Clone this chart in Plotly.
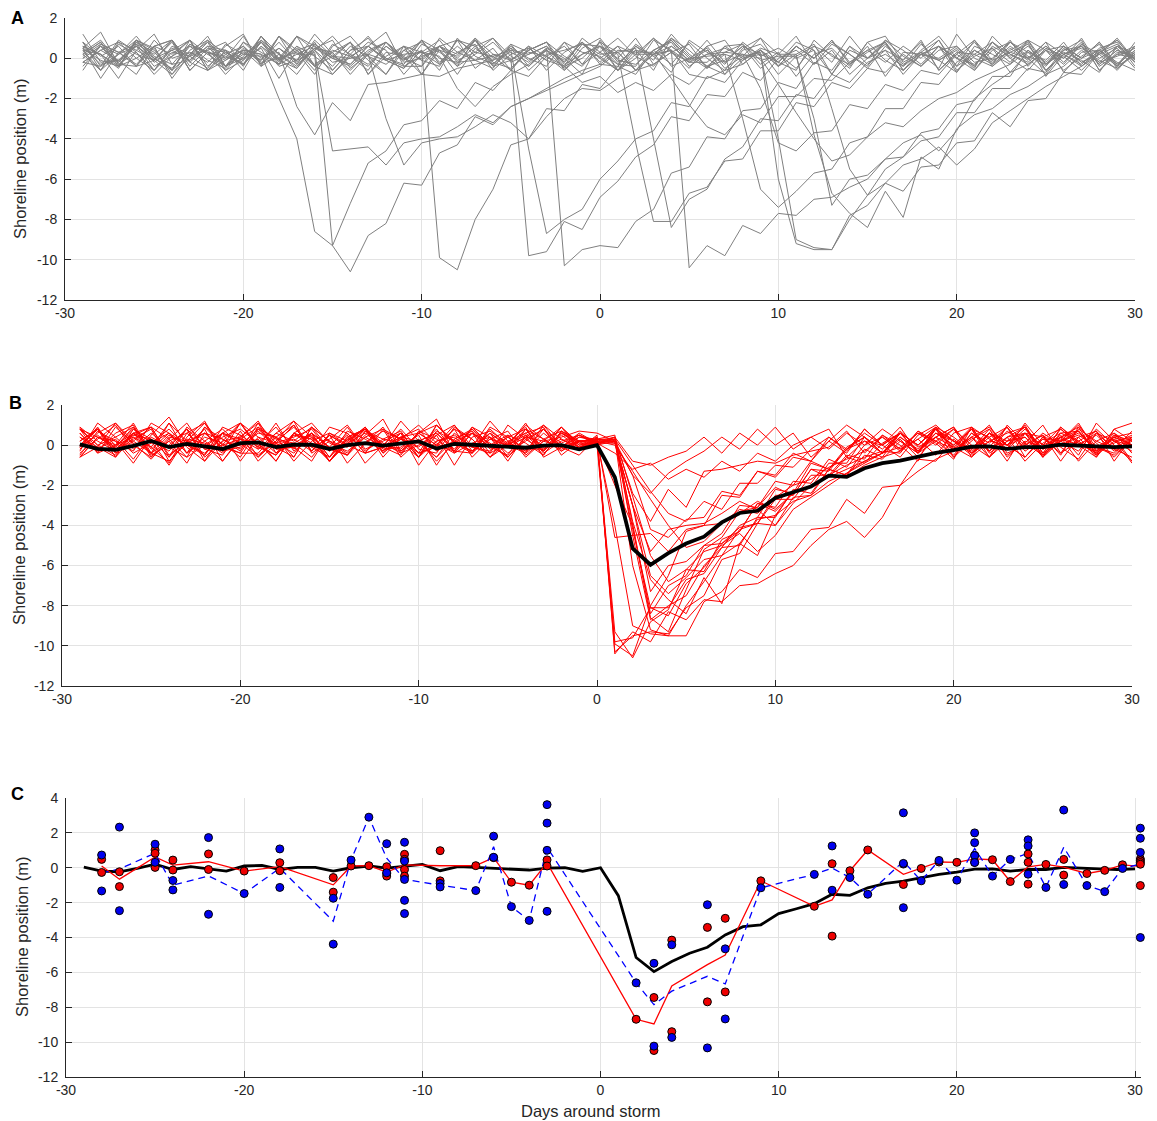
import plotly.graph_objects as go
import pandas as pd

# ---------------- data ----------------
# storm day (absolute day of the last pre-storm sample) for each shoreline record
storm_day = [-19, -19, -16, -16, -14, -10, -5, -3, -6, 0, 1, 4,
             8, 10, 10, 11, 7, 8, 2, -3, -10, 3, 9, 6]

# pre-storm samples, ending the day before the storm day (relative days ..., -2, -1)
pre_01 = [0.6,-0.4,0.9,0.1,-0.7,0.3,1.1,-0.2,-0.5,0.7,-0.6,0.2,1.2,0.4,-0.3,0.5,-0.9,0.0,0.8,-0.2,-0.4,0.9,0.3,-0.6,0.5,0.1,-0.5,0.7,0.2]
pre_02 = [-0.5,0.7,0.2,-0.9,0.4,-0.1,-0.6,0.9,0.3,-0.3,1.1,-0.4,0.1,0.6,-0.8,0.3,0.8,-0.2,-0.1,0.5,-1.0,0.3,0.7,-0.4,0.1,0.9,-0.6,-0.1,0.4]
pre_03 = [0.9,-0.2,0.3,-0.7,0.5,1.4,0.0,-0.5,0.6,0.1,-0.6,0.4,1.0,-0.3,0.5,-0.9,0.1,0.7,0.3,-0.4,-0.1,0.8,-0.6,0.3,0.0,1.1,-0.3,0.5,-0.1]
pre_04 = [-0.6,0.4,0.0,1.1,-0.4,0.2,-0.9,0.6,0.3,-0.2,0.7,-0.1,-0.6,0.9,0.2,-0.4,0.5,1.3,-0.3,0.3,-0.8,0.1,0.6,-0.1,-0.5,0.8,0.3,-0.3,0.2]
pre_05 = [0.2,0.8,-0.6,0.4,-0.1,-0.9,0.6,1.1,-0.3,0.3,-0.5,0.2,0.9,-0.1,-0.6,0.7,0.3,-0.3,0.6,-1.0,0.2,0.4,-0.4,0.8,0.0,0.5,-0.3,0.9,0.1]
pre_06 = [0.4,-0.3,0.6,1.0,-0.5,0.0,0.8,-0.8,0.2,0.4,1.2,-0.2,-0.1,0.6,-0.6,0.3,0.1,0.9,-0.4,0.0,0.5,-1.0,0.4,0.7,0.1,-0.3,0.6,-0.1,-0.5]
pre_07 = [-0.2,0.6,1.1,0.0,-0.6,0.4,0.2,-0.5,0.9,0.5,-0.8,0.1,0.4,0.8,-0.3,0.6,-0.4,-0.1,1.2,0.2,-0.6,0.3,0.8,-0.2,0.0,0.6,0.9,-0.5,0.2]
pre_08 = [0.8,0.0,-0.5,0.6,0.2,-1.0,0.4,1.2,-0.3,-0.1,0.6,0.4,-0.6,0.9,0.2,-0.5,0.7,0.0,-0.3,0.6,1.3,-0.4,0.1,0.4,-0.8,0.5,-0.1,0.3,-0.2]
pre_09 = [-0.4,0.3,1.0,-0.2,0.6,-0.1,0.8,-0.6,0.2,1.1,0.0,-0.5,0.6,0.3,-0.8,0.1,0.9,-0.1,0.4,-0.6,0.7,0.2,-0.3,0.6,0.0,-0.4,1.0,0.3,-0.1]
pre_10 = [0.6,-0.3,-0.1,0.8,0.3,-0.6,0.9,0.2,-0.4,0.5,-0.1,1.1,-0.3,0.4,-0.8,0.1,0.6,-0.1,-0.5,0.7,0.3,-0.3,0.9,0.0,0.5,-0.6,0.2,0.4,0.7]
pre_11 = [0.2,0.8,-0.4,0.0,0.6,0.9,-0.6,0.3,0.1,-0.3,1.1,-0.1,-0.5,0.5,0.3,-0.8,0.2,0.8,-0.1,0.4,-0.6,1.0,0.1,-0.3,0.6,-0.1,0.4,-0.5,0.7,0.2]
pre_12 = [0.4,-0.6,0.7,0.2,-0.1,0.9,-0.4,0.5,0.3,-0.3,0.8,0.0,-0.8,0.4,1.1,0.1,-0.4,0.6,-0.1,0.9,-0.3,0.3,0.7,-0.6,0.2,0.5,-0.1,-0.4,1.0,0.3,-0.3,0.6,0.1]
pre_13 = [0.0,0.6,-0.4,0.9,0.1,-0.3,0.7,0.3,-0.6,-0.1,1.1,0.2,-0.4,0.5,0.0,0.8,-0.8,0.3,0.1,0.9,-0.2,0.6,-0.1,-0.5,0.7,0.3,0.1,-0.6,0.5,1.0,-0.1,-0.3,0.4,0.8,-0.4,0.2,0.5]
pre_14 = [0.5,-0.1,-0.4,0.7,0.2,0.9,-0.6,0.3,-0.1,0.6,-0.3,1.1,0.4,-0.4,0.1,0.8,-0.1,-0.8,0.6,0.3,0.9,-0.2,-0.1,0.5,-0.6,0.4,0.8,0.1,-0.4,0.6,0.0,1.0,-0.3,0.3,0.7,-0.5,0.2,-0.1,0.5]
pre_15 = [-0.2,0.4,0.8,0.0,-0.6,0.6,0.2,1.1,-0.4,0.3,-0.1,0.8,-0.2,0.5,0.9,-0.5,0.2,-0.1,0.6,-0.8,0.4,0.1,1.0,-0.3,0.5,0.0,-0.4,0.8,0.3,0.1,-0.6,0.6,-0.1,1.2,0.2,-0.4,0.3,0.7,-0.1]
pre_16 = [0.3,0.9,-0.2,0.6,0.0,-0.6,0.7,0.2,0.4,-0.4,1.1,-0.1,0.5,-0.3,0.3,0.8,-0.8,0.1,0.6,-0.1,-0.4,0.9,0.3,0.1,-0.6,0.5,-0.1,0.8,-0.3,0.3,1.0,0.1,-0.4,0.6,-0.1,0.4,-0.3,0.8,0.1,0.5]
pre_17 = [0.8,-0.4,0.2,0.6,-0.1,-0.8,0.4,0.9,0.2,-0.3,0.6,-0.1,1.1,-0.4,0.4,0.1,-0.6,0.8,0.0,0.3,-0.3,0.9,0.6,-0.4,-0.1,0.4,0.8,-0.3,0.2,0.6,-0.6,0.0,1.0,0.3,-0.2,0.2]
pre_18 = [-0.4,0.6,0.2,0.9,-0.2,0.4,-0.1,0.8,-0.6,0.4,0.2,-0.3,1.1,0.6,0.0,-0.4,0.4,0.8,0.1,-0.8,0.6,-0.1,0.3,1.0,-0.2,0.2,0.6,-0.4,0.0,0.8,0.3,-0.6,0.2,0.6,-0.1,0.9,-0.2]
pre_19 = [0.2,-0.6,0.8,0.4,-0.1,0.9,-0.2,0.6,-0.4,0.2,0.8,0.0,0.3,-0.8,0.6,1.1,0.1,-0.3,0.4,-0.1,0.6,-0.4,1.0,0.2,-0.1,0.6,-0.6,0.3,0.8,-0.3,0.4]
pre_20 = [0.4,-0.1,-0.6,0.8,0.1,0.6,-0.4,0.9,0.0,0.3,-0.2,0.6,1.2,-0.4,0.2,-0.1,0.8,-0.6,0.4,0.6,0.0,-0.3,0.9,0.4,-0.4,0.2,0.8,-0.1,0.6]
pre_21 = [0.0,0.8,-0.4,0.2,0.9,0.3,-0.6,0.0,0.6,1.1,-0.2,0.4,-0.1,-0.8,0.6,0.2,0.9,-0.4,0.3,-0.1,0.8,-0.3,0.6,0.1,-0.6,0.4,1.0,-0.1,0.2]
pre_22 = [0.6,0.2,-0.4,0.8,0.0,0.4,0.9,-0.6,0.2,0.6,-0.2,0.0,1.1,0.4,-0.4,0.6,0.1,-0.8,0.4,0.8,0.0,-0.2,0.6,1.0,0.1,-0.4,0.4,-0.1,0.8,-0.2,0.6,0.2]
pre_23 = [0.2,0.8,-0.3,-0.4,0.6,0.9,-0.2,-0.6,0.4,0.0,0.8,-0.2,0.6,-0.4,-0.8,0.2,1.1,0.0,-0.4,-0.4,0.6,0.2,0.9,-0.2,-0.5,0.4,0.8,-0.6,0.2,0.6,-0.3,-0.4,0.9,0.4,-0.2,-0.2,0.6,0.0]
pre_24 = [0.0,0.6,-0.2,0.9,0.4,-0.6,0.2,0.8,0.0,0.4,-0.4,1.1,0.2,0.6,-0.2,0.0,0.8,0.4,-0.8,0.2,0.6,0.0,0.9,-0.4,0.4,0.2,0.6,-0.2,0.8,0.0,-0.6,0.4,0.2,0.9,0.0]

# samples from the storm day onward (relative days 0, 1, 2, ...)
main_01 = [0.1,0.3,-2.4,-3.8,-2.2,-3.1,-1.3,-1.2,-1.0,-0.8,-0.9,-0.5,-0.3,-0.1,0.7,-0.4,0.5,0.0,-0.8,0.9,-0.2,0.4,-0.6,1.0,0.1,-0.5,0.6,0.7,-0.3,0.3,-0.9,0.2,0.5,-0.4,0.8,-0.1,-0.6,0.4,1.1,0.0,-0.3,0.5,-0.7,0.3,-0.1,0.8,-0.4,0.2,0.6,-0.2]
main_02 = [0.2,-2.0,-4.0,-8.6,-9.3,-7.2,-5.2,-4.6,-3.3,-3.1,-2.1,-2.5,-1.2,-1.6,-0.6,-0.9,0.1,0.6,-0.3,0.8,-0.6,0.2,1.0,-0.4,0.0,0.5,-0.8,0.4,0.7,-0.2,-0.6,0.9,0.1,-0.3,0.6,-0.9,0.3,0.2,-0.5,1.2,0.0,-0.4,0.5,-0.1,0.8,-0.7,0.3,0.4,-0.2,-0.6]
main_03 = [0.3,-4.6,-4.5,-4.4,-5.3,-4.2,-4.0,-3.9,-3.4,-2.8,-3.2,-2.4,-2.0,-1.5,-1.0,-0.6,-0.3,-0.4,0.7,0.1,-0.7,0.9,0.3,-0.2,0.6,-0.5,0.2,1.1,-0.3,0.4,-0.8,0.0,0.7,-0.4,0.3,0.9,-0.6,0.1,0.5,-0.2,0.8,-0.9,0.2,0.6,-0.3,0.4,0.0]
main_04 = [0.2,-9.3,-10.6,-8.8,-8.2,-6.2,-6.3,-4.7,-4.3,-2.9,-3.3,-2.4,-2.0,-1.6,-1.2,-0.8,-0.4,0.3,-0.6,0.4,0.9,-0.2,0.6,-0.5,0.1,1.0,-0.4,0.2,0.7,-0.8,0.4,0.0,0.8,-0.3,0.2,0.6,-0.7,0.4,-0.1,0.9,-0.4,0.5,0.1,-0.6,0.3,0.7,-0.2]
main_05 = [0.0,0.2,-3.0,-5.3,-4.2,-4.0,-3.9,-3.4,-2.8,-3.2,-4.0,-2.9,-2.0,-1.5,-1.6,-1.0,-0.6,-0.3,0.3,-0.5,0.6,0.9,-0.3,0.4,-0.8,0.1,0.6,0.2,-0.5,0.8,1.1,-0.2,0.3,-0.1,-0.7,0.6,0.2,-0.3,0.9,0.4,-0.6,0.1,0.7,-0.5,0.2]
main_06 = [0.4,-9.9,-10.5,-8.0,-6.5,-4.3,-4.0,-2.5,-2.6,-1.3,-1.5,-0.4,-0.8,0.4,-0.3,0.8,0.0,-0.6,0.5,1.0,0.2,-0.5,0.6,-0.2,1.1,0.0,0.4,-0.8,0.2,0.6,-0.4,0.9,-0.1,0.3,0.7,-0.6,0.2,-0.3,0.5,0.8,-0.4]
main_07 = [0.0,-9.8,-9.6,-8.1,-8.5,-6.9,-6.1,-4.9,-4.3,-2.9,-3.1,-1.8,-1.9,-0.7,-1.1,0.0,0.4,-0.3,0.7,0.2,-0.5,0.6,-0.1,0.9,-0.6,0.3,0.2,-0.3,0.8,0.0,-0.8,0.4,0.6,-0.2,0.1,0.5]
main_08 = [0.5,-10.3,-9.5,-9.3,-9.4,-8.1,-7.5,-5.7,-5.4,-3.9,-4.0,-2.6,-2.5,-1.2,-1.5,-0.2,-0.6,0.6,-0.3,0.4,-0.1,0.8,-0.6,0.2,0.9,-0.4,0.3,0.0,0.6,-0.2,0.7,0.2,-0.6,0.4]
main_09 = [0.1,0.4,-4.5,-8.7,-8.0,-7.5,-6.0,-5.1,-4.0,-3.6,-2.2,-2.4,-0.9,-1.2,-0.1,0.4,-0.4,0.6,0.0,0.9,-0.3,0.3,0.8,-0.6,0.2,-0.1,0.5,-0.5,1.1,0.2,-0.3,0.4,0.0,0.8,-0.6,0.3,0.1]
main_10 = [0.6,0.2,-4.2,-8.1,-8.1,-6.7,-6.4,-5.1,-5.0,-3.6,-3.6,-2.2,-2.4,-1.2,-1.5,-0.5,-0.7,0.2,-0.4,0.6,0.0,0.8,-0.3,0.4,0.9,-0.6,0.2,0.5,-0.1,-0.5,0.3]
main_11 = [0.3,0.5,-4.0,-8.4,-7.0,-6.5,-5.0,-4.4,-3.0,-3.1,-1.8,-2.0,-0.8,-1.2,-0.2,0.2,-0.4,0.7,-0.1,0.4,-0.6,0.6,0.1,0.9,-0.3,0.3,-0.1,-0.7,0.6,0.2,0.4]
main_12 = [0.4,-10.4,-9.3,-9.8,-8.3,-8.7,-7.7,-7.8,-7.0,-6.9,-6.4,-6.0,-5.0,-4.2,-3.8,-4.6,-3.6,-2.0,-1.3,-0.7,-0.3,0.4,-0.3,0.7,0.0,0.5,-0.5,0.9,0.1,-0.6,0.3]
main_13 = [0.1,0.3,-6.0,-9.2,-9.5,-9.5,-7.8,-7.3,-6.2,-6.6,-5.4,-5.3,-4.2,-4.1,-2.7,-3.4,-2.1,-2.0,-0.7,-0.8,0.3,-0.4,0.6,0.0,0.8,-0.2,0.4,0.9,-0.5,0.2,0.0]
main_14 = [0.2,0.2,-3.8,-6.7,-7.7,-8.4,-6.6,-7.9,-4.9,-5.5,-3.5,-2.8,-2.5,-1.8,-1.4,-0.8,-0.4,0.4,-0.2,0.6,0.0,0.9,-0.4,0.2,0.6,-0.6,0.4,0.7,-0.2,0.1,0.5]
main_15 = [0.1,0.1,-3.0,-7.3,-6.0,-5.8,-5.0,-4.9,-4.1,-3.9,-2.7,-2.7,-1.5,-1.5,-0.5,-0.7,0.5,-0.2,0.3,0.9,-0.1,-0.6,0.6,0.2,0.4,-0.4,0.8,0.0,0.5,-0.3,0.2]
main_16 = [0.0,0.4,-2.5,-5.5,-6.8,-6.2,-5.3,-5.0,-4.4,-5.3,-4.5,-3.2,-2.6,-2.0,-1.4,-0.9,-0.4,0.4,-0.3,0.6,0.2,-0.2,0.8,0.0,0.4,-0.6,0.9,0.2,-0.4,0.4,0.0]
main_17 = [0.3,0.2,-1.5,-4.2,-4.6,-3.7,-3.6,-2.3,-2.5,-1.3,-1.6,-0.6,-0.8,0.2,-0.4,0.8,0.0,0.6,-0.3,0.4,0.9,-0.6,0.2,0.0,0.6,0.4,-0.4,0.8,0.2,-0.2,0.4]
main_18 = [0.2,0.0,-1.3,-2.7,-4.0,-5.1,-4.8,-3.9,-3.2,-3.4,-2.6,-2.0,-1.7,-1.1,-0.7,-0.3,0.4,-0.2,0.6,0.0,0.8,-0.4,0.2,0.6,0.9,-0.2,0.4,0.0,-0.6,0.5,0.2]
main_19 = [0.3,0.3,-1.0,-2.3,-3.4,-3.8,-2.8,-3.2,-1.9,-1.9,-1.0,-1.1,-0.2,0.4,-0.2,0.6,0.0,0.9,-0.4,0.2,0.8,0.0,-0.6,0.4,0.6,-0.2,0.2,1.0,-0.1,-0.4,0.4]
main_20 = [0.1,-0.4,-1.2,-0.9,-1.7,-1.2,-1.6,-0.8,-1.3,-0.4,-0.8,0.0,0.4,-0.2,0.6,0.0,0.8,0.2,-0.4,0.9,0.4,-0.3,0.6,0.0,-0.6,0.4,0.8,0.1,-0.3,0.6,0.0,0.4,-0.4,0.8]
main_21 = [0.3,0.1,-1.5,-2.4,-1.4,-0.8,-0.3,0.4,-0.2,0.8,0.0,0.6,-0.6,0.2,1.0,0.4,-0.4,-0.1,0.6,0.2,-0.2,0.8,0.4,-0.8,0.6,0.0,0.9,0.1,-0.4,0.4,0.6,-0.2,0.0,0.8,0.3,-0.6,0.2,0.6,-0.3,0.4,0.1]
main_22 = [0.2,0.4,-0.8,-1.0,-0.6,-0.3,0.4,-0.4,0.6,0.0,0.9,-0.2,0.4,0.8,-0.6,0.2,0.0,0.6,-0.4,0.8,0.2,-0.2,0.6,0.0,1.0,-0.4,0.2,0.6,-0.1,0.4,0.0]
main_23 = [0.2,-4.0,-9.0,-9.4,-9.5,-8.0,-6.8,-5.5,-4.9,-3.7,-3.5,-2.3,-2.1,-0.9,-0.9,0.4,-0.4,0.6,0.0,0.8,-0.3,0.4,0.9,0.0,-0.6,0.4,0.2,0.7,-0.4,0.5,0.0]
main_24 = [0.1,0.2,-3.0,-6.5,-7.4,-6.6,-5.7,-5.5,-4.2,-3.9,-2.5,-2.5,-1.2,-1.3,-0.2,0.4,-0.2,0.6,0.0,0.8,0.2,-0.4,0.4,0.9,-0.2,0.6,0.0,0.4,-0.6,0.8,0.2]

# storm-composite mean, days -29..30
mean_days = list(range(-29, 31))
mean_vals = [0.04,-0.19,-0.23,-0.04,0.21,-0.10,0.06,-0.06,-0.19,0.10,
             0.13,-0.10,0.02,0.02,-0.19,0.00,0.10,-0.02,0.10,0.19,
             -0.17,0.06,0.02,-0.02,-0.10,-0.13,-0.02,0.00,-0.21,0.00,
             -1.60,-5.15,-5.96,-5.38,-4.90,-4.56,-3.85,-3.38,-3.27,-2.63,
             -2.35,-2.06,-1.52,-1.58,-1.15,-0.90,-0.77,-0.56,-0.38,-0.25,
             -0.08,-0.06,-0.19,-0.10,-0.10,0.02,0.00,-0.06,-0.10,-0.06]

# panel C observations
red_day = [-28,-28,-27,-27,-25,-25,-25,-24,-24,-22,-22,-20,-18,-18,-15,-15,-14,-13,
           -12,-12,-12,-11,-11,-11,-11,-9,-9,-7,-6,-5,-4,-3,-3,
           2,3,3,4,4,6,6,7,7,9,12,13,13,14,15,17,17,18,19,20,21,21,22,23,
           24,24,24,25,26,26,27.3,28.3,29.3,30.3,30.3,30.3,30.3,30.3]
red_val = [0.48,-0.27,-0.23,-1.08,1.02,0.83,0.02,0.44,-0.13,0.79,-0.10,-0.19,0.29,-0.17,-0.56,-1.40,0.10,0.12,
           0.06,-0.33,-0.48,0.77,0.48,-0.10,-0.48,0.98,-0.75,0.12,0.58,-0.83,-1.00,0.45,0.10,
           -8.69,-7.44,-10.48,-4.15,-9.40,-3.42,-7.69,-2.90,-7.12,-0.75,-2.21,0.23,-3.92,-0.17,1.02,0.21,-0.96,-0.04,0.33,0.31,0.71,0.31,0.46,-0.79,
           0.79,0.31,-0.94,0.19,0.48,-0.42,-0.33,-0.15,0.17,0.50,0.40,0.30,0.20,-1.02]
blue_day = [-28,-28,-27,-27,-25,-25,-24,-24,-22,-22,-20,-18,-18,-15,-15,-14,-13,
            -12,-12,-11,-11,-11,-11,-11,-9,-9,-7,-6,-6,-5,-4,-3,-3,-3,-3,
            2,3,3,4,4,6,6,7,7,9,12,13,13,14,15,17,17,17,18,19,20,21,21,21,21,22,23,
            24,24,24,25,26,26,27.3,28.3,29.3,30.3,30.3,30.3,30.3]
blue_val = [0.73,-1.33,2.33,-2.46,1.35,0.31,-0.73,-1.27,1.73,-2.67,-1.48,1.08,-1.13,-1.75,-4.38,0.44,2.90,
            1.38,-0.29,1.46,0.38,-0.67,-1.87,-2.63,-0.90,-1.10,-1.31,1.81,0.60,-2.23,-3.02,3.62,2.56,1.00,-2.50,
            -6.60,-5.48,-10.23,-4.42,-9.73,-2.12,-10.33,-4.65,-8.67,-1.15,-0.38,1.25,-1.29,-0.56,-1.52,3.15,0.25,-2.29,-0.75,0.42,-0.71,2.00,1.44,0.70,0.30,-0.48,0.48,
            1.60,1.25,-0.37,-1.13,3.31,-0.96,-1.02,-1.37,-0.04,2.27,1.69,0.88,-4.00]

x_ticks = [-30, -20, -10, 0, 10, 20, 30]
y_ticks_ab = [-12, -10, -8, -6, -4, -2, 0, 2]
y_ticks_c = [-12, -10, -8, -6, -4, -2, 0, 2, 4]

pre_all = [pre_01, pre_02, pre_03, pre_04, pre_05, pre_06, pre_07, pre_08, pre_09, pre_10, pre_11, pre_12,
           pre_13, pre_14, pre_15, pre_16, pre_17, pre_18, pre_19, pre_20, pre_21, pre_22, pre_23, pre_24]
main_all = [main_01, main_02, main_03, main_04, main_05, main_06, main_07, main_08, main_09, main_10, main_11, main_12,
            main_13, main_14, main_15, main_16, main_17, main_18, main_19, main_20, main_21, main_22, main_23, main_24]

# ---------------- figure ----------------
W, H = 1157, 1121
FONT = "Liberation Sans, Arial, Helvetica, sans-serif"
AX = "#262626"
GRID = "#e3e3e3"


def fx(px):
    return px / W


def fy(py):
    return 1 - py / H


fig = go.Figure()

for s, pre, main in zip(storm_day, pre_all, main_all):
    rel = list(range(-len(pre), 0)) + list(range(len(main)))
    vals = pre + main
    xa = [r + s for r in rel if -29 <= r + s <= 30]
    ya = [v for r, v in zip(rel, vals) if -29 <= r + s <= 30]
    fig.add_trace(go.Scatter(x=xa, y=ya, mode="lines", line=dict(color="#808080", width=1),
                             xaxis="x", yaxis="y", showlegend=False, hoverinfo="skip"))

for s, pre, main in zip(storm_day, pre_all, main_all):
    rel = list(range(-len(pre), 0)) + list(range(len(main)))
    vals = pre + main
    xb = [r for r in rel if -29 <= r <= 30]
    yb = [v for r, v in zip(rel, vals) if -29 <= r <= 30]
    fig.add_trace(go.Scatter(x=xb, y=yb, mode="lines", line=dict(color="#ff0000", width=1),
                             xaxis="x2", yaxis="y2", showlegend=False, hoverinfo="skip"))

fig.add_trace(go.Scatter(x=mean_days, y=mean_vals, mode="lines", line=dict(color="black", width=3.8),
                         xaxis="x2", yaxis="y2", showlegend=False))

# panel C
red_df = pd.DataFrame({"d": red_day, "v": red_val})
blue_df = pd.DataFrame({"d": blue_day, "v": blue_val})
red_mean = red_df.groupby("d")["v"].mean().sort_index()
blue_mean = blue_df.groupby("d")["v"].mean().sort_index()

fig.add_trace(go.Scatter(x=mean_days, y=mean_vals, mode="lines", line=dict(color="black", width=2.8),
                         xaxis="x3", yaxis="y3", showlegend=False))
fig.add_trace(go.Scatter(x=list(red_mean.index), y=list(red_mean.values), mode="lines",
                         line=dict(color="#ff0000", width=1.3), xaxis="x3", yaxis="y3", showlegend=False))
fig.add_trace(go.Scatter(x=list(blue_mean.index), y=list(blue_mean.values), mode="lines",
                         line=dict(color="#0000ff", width=1.3, dash="7px,5px"), xaxis="x3", yaxis="y3",
                         showlegend=False))
fig.add_trace(go.Scatter(x=red_day, y=red_val, mode="markers", cliponaxis=False,
                         marker=dict(color="#ee0000", size=8, line=dict(color="black", width=1)),
                         xaxis="x3", yaxis="y3", showlegend=False))
fig.add_trace(go.Scatter(x=blue_day, y=blue_val, mode="markers", cliponaxis=False,
                         marker=dict(color="#0000ee", size=8, line=dict(color="black", width=1)),
                         xaxis="x3", yaxis="y3", showlegend=False))


def xa_cfg(x0, x1, y_anchor, rng=(-30, 30)):
    return dict(domain=[fx(x0), fx(x1)], range=list(rng), anchor=y_anchor,
                tickvals=x_ticks, ticktext=[str(t) for t in x_ticks],
                showgrid=True, gridcolor=GRID, gridwidth=1, zeroline=False, automargin=False,
                showline=True, linecolor=AX, linewidth=1, ticks="inside", ticklen=6,
                tickcolor=AX, tickfont=dict(family=FONT, size=14, color="#262626"))


def ya_cfg(y_top, y_bot, x_anchor, ticks, rng):
    return dict(domain=[fy(y_bot), fy(y_top)], range=rng, anchor=x_anchor,
                tickvals=ticks, ticktext=[str(t) for t in ticks],
                showgrid=True, gridcolor=GRID, gridwidth=1, zeroline=False, automargin=False,
                showline=True, linecolor=AX, linewidth=1, ticks="inside", ticklen=6,
                tickcolor=AX, ticklabelstandoff=4,
                tickfont=dict(family=FONT, size=14, color="#262626"))


# panel C runs a little past day 30 so the last-day observations stay visible
C_LEFT, C_RIGHT30, C_XMAX = 66, 1135, 30.35
c_right = C_RIGHT30 + (C_XMAX - 30) * (C_RIGHT30 - C_LEFT) / 60.0

fig.update_layout(
    width=W, height=H, margin=dict(l=0, r=0, t=0, b=0, pad=0, autoexpand=False),
    paper_bgcolor="white", plot_bgcolor="white", showlegend=False,
    xaxis=xa_cfg(65, 1135, "y"),
    yaxis=ya_cfg(18, 300, "x", y_ticks_ab, [-12, 2]),
    xaxis2=xa_cfg(62, 1132, "y2"),
    yaxis2=ya_cfg(405, 686, "x2", y_ticks_ab, [-12, 2]),
    xaxis3=xa_cfg(C_LEFT, c_right, "y3", (-30, C_XMAX)),
    yaxis3=ya_cfg(798, 1077, "x3", y_ticks_c, [-12, 4]),
)

annots = []
for letter, lx, ly in [("A", 17, 18), ("B", 15, 403), ("C", 17, 794)]:
    annots.append(dict(text="<b>%s</b>" % letter, x=fx(lx), y=fy(ly), xref="paper", yref="paper",
                       showarrow=False, xanchor="center", yanchor="middle",
                       font=dict(family=FONT, size=18, color="black")))
for lx, ly in [(20, 159), (19, 545), (22, 937)]:
    annots.append(dict(text="Shoreline position (m)", x=fx(lx), y=fy(ly), xref="paper", yref="paper",
                       showarrow=False, textangle=-90, xanchor="center", yanchor="middle",
                       font=dict(family=FONT, size=16.5, color="#262626")))
annots.append(dict(text="Days around storm", x=fx(590), y=fy(1111), xref="paper", yref="paper",
                   showarrow=False, xanchor="center", yanchor="middle", borderpad=0,
                   font=dict(family=FONT, size=16.5, color="#262626")))
fig.update_layout(annotations=annots)

# the page's default 8px body margin would push the figure off the window edges
fig.write_html("out.html",
               config={"displayModeBar": False},
               post_script="document.body.style.margin='0px';document.body.style.overflow='hidden';")
